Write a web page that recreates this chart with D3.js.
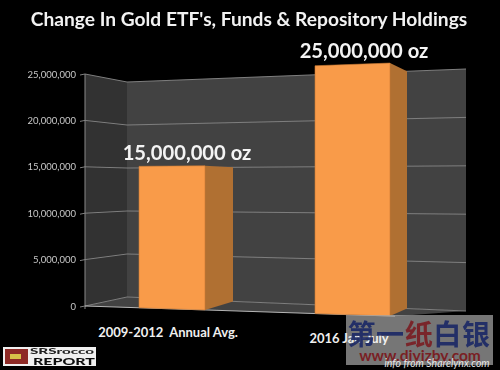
<!DOCTYPE html>
<html>
<head>
<meta charset="utf-8">
<script src="https://d3js.org/d3.v7.min.js"></script>
<style>
    html, body { margin: 0; padding: 0; background: #000; overflow: hidden; }
    svg { display: block; }
    text { font-family: Lato, sans-serif; }
</style>
</head>
<body>
<div id="chart"></div>
<script>
'use strict';

// Data
const categories = ['2009-2012  Annual Avg.', '2016 Jan-July'];
const values = [15000000, 25000000];
const valueLabels = ['15,000,000 oz', '25,000,000 oz'];
const tickValues = [0, 5000000, 10000000, 15000000, 20000000, 25000000];
const titleText = "Change In Gold ETF's, Funds & Repository Holdings";

// Configs
const svgW = 500;
const svgH = 370;
const yMax = 25000000;
const wallX = {front: 85, back: 127, right: 466};
const barColor = '#f99b4a';
const barSide = '#b06f32';

// Tools: the chart is a slanted 3d box, so each plane gets its own base/top lines
const frontBase = d3.scaleLinear().domain([85, 420]).range([306, 317]);
const frontTop = d3.scaleLinear().domain([85, 420]).range([74, 62]);
const backBase = d3.scaleLinear().domain([127, 466]).range([297, 311]);
const backTop = d3.scaleLinear().domain([127, 466]).range([82, 69]);
const frac = d3.scaleLinear().domain([0, yMax]).range([0, 1]);

const yFront = (x, v) => d3.interpolateNumber(frontBase(x), frontTop(x))(frac(v));
const yBack = (x, v) => d3.interpolateNumber(backBase(x), backTop(x))(frac(v));

// Bar edges, by category index
const barLeft = d3.scaleLinear().domain([0, 1]).range([139, 315]);
const barRight = d3.scaleLinear().domain([0, 1]).range([205, 390]);
const barBack = d3.scaleLinear().domain([0, 1]).range([233, 407]);

const line = d3.line();

const svg = d3.select('#chart')
    .append('svg')
    .attr('width', svgW)
    .attr('height', svgH);

svg.append('rect')
    .attr('width', svgW)
    .attr('height', svgH)
    .attr('fill', '#000');

const defs = svg.append('defs');
defs.append('filter')
    .attr('id', 'soft')
    .append('feGaussianBlur')
    .attr('stdDeviation', 0.45);

const g = svg.append('g').attr('filter', 'url(#soft)');

// Walls and floor
g.append('path')
    .attr('d', line([
        [wallX.front, yFront(wallX.front, yMax)],
        [wallX.back, yBack(wallX.back, yMax)],
        [wallX.back, yBack(wallX.back, 0)],
        [wallX.front, yFront(wallX.front, 0)]
    ]) + 'Z')
    .attr('fill', '#303030');
g.append('path')
    .attr('d', line([
        [wallX.back, yBack(wallX.back, yMax)],
        [wallX.right, yBack(wallX.right, yMax)],
        [wallX.right, yBack(wallX.right, 0)],
        [wallX.back, yBack(wallX.back, 0)]
    ]) + 'Z')
    .attr('fill', '#434343');
g.append('path')
    .attr('d', line([
        [wallX.front, yFront(wallX.front, 0)],
        [wallX.back, yBack(wallX.back, 0)],
        [wallX.right, yBack(wallX.right, 0)],
        [395, frontBase(395)]
    ]) + 'Z')
    .attr('fill', '#434343');

// Grid lines
tickValues.forEach(v => {
    g.append('path')
        .attr('d', line([
            [80, yFront(wallX.front, v) + 1],
            [wallX.front, yFront(wallX.front, v)],
            [wallX.back, yBack(wallX.back, v)],
            [wallX.right, yBack(wallX.right, v)]
        ]))
        .attr('fill', 'none')
        .attr('stroke', '#7e7e7e')
        .attr('stroke-width', 1);
});

// Axis and front floor edge
g.append('path')
    .attr('d', line([
        [wallX.front, yFront(wallX.front, yMax)],
        [wallX.front, yFront(wallX.front, 0) + 3]
    ]))
    .attr('stroke', '#8a8a8a');
g.append('path')
    .attr('d', line([
        [wallX.front, yFront(wallX.front, 0)],
        [395, frontBase(395)]
    ]))
    .attr('stroke', '#b5b5b5');

// Tick labels
g.selectAll('.tick')
    .data(tickValues)
    .join('text')
    .attr('class', 'tick')
    .attr('x', 76)
    .attr('y', d => yFront(wallX.front, d) + 3.5)
    .attr('text-anchor', 'end')
    .attr('font-size', 9.5)
    .attr('fill', '#c8c8c8')
    .text(d => d3.format(',')(d));

// Bars
values.forEach((v, i) => {
    const l = barLeft(i);
    const r = barRight(i);
    const b = barBack(i);

    g.append('path')
        .attr('class', 'bar-side')
        .attr('d', line([
            [r, yFront(r, v)],
            [b, yBack(b, v)],
            [b, yBack(b, 0)],
            [r, yFront(r, 0)]
        ]) + 'Z')
        .attr('fill', barSide);
    g.append('path')
        .attr('class', 'bar-front')
        .attr('d', line([
            [l, yFront(l, v)],
            [r, yFront(r, v)],
            [r, yFront(r, 0)],
            [l, yFront(l, 0)]
        ]) + 'Z')
        .attr('fill', barColor)
        .attr('stroke', '#c97a34')
        .attr('stroke-width', 0.6);
});

// Value labels
const labelPos = d3.scaleLinear().domain([0, 1]).range([187, 364]);
g.selectAll('.value')
    .data(valueLabels)
    .join('text')
    .attr('class', 'value')
    .attr('x', (d, i) => labelPos(i))
    .attr('y', (d, i) => yFront(barRight(i), values[i]) - (i ? 5 : 6))
    .attr('text-anchor', 'middle')
    .attr('font-size', 20.2)
    .attr('font-weight', 700)
    .attr('fill', '#f4f4f4')
    .text(d => d);

// Title
g.append('text')
    .attr('x', 249)
    .attr('y', 25.5)
    .attr('text-anchor', 'middle')
    .attr('font-size', 19.2)
    .attr('font-weight', 700)
    .attr('fill', '#f2f2f2')
    .text(titleText);

// Logo
const logo = g.append('g').attr('class', 'logo');
logo.append('rect').attr('x', 3).attr('y', 347).attr('width', 93).attr('height', 19).attr('fill', '#f0f0f0');
logo.append('rect').attr('x', 5).attr('y', 349).attr('width', 23).attr('height', 15).attr('fill', '#8e2a26');
logo.append('rect').attr('x', 10).attr('y', 354).attr('width', 11).attr('height', 5).attr('fill', '#d8c24a');
logo.append('text').attr('x', 30).attr('y', 354).attr('font-size', 7).attr('font-weight', 900)
    .attr('textLength', 64).attr('lengthAdjust', 'spacingAndGlyphs').attr('fill', '#222').text('SRSrocco');
logo.append('text').attr('x', 33).attr('y', 365).attr('font-size', 9).attr('font-weight', 900)
    .attr('textLength', 62).attr('lengthAdjust', 'spacingAndGlyphs').attr('fill', '#111').text('REPORT');

// Watermark panel sits under the category labels
svg.append('rect')
    .attr('x', 346)
    .attr('y', 315)
    .attr('width', 147)
    .attr('height', 50)
    .attr('fill', '#a8a8a8')
    .attr('opacity', 0.7);

// Category labels
const catX = d3.scaleLinear().domain([0, 1]).range([168, 349]);
const catY = d3.scaleLinear().domain([0, 1]).range([337, 343]);
svg.selectAll('.cat')
    .data(categories)
    .join('text')
    .attr('class', 'cat')
    .attr('x', (d, i) => catX(i))
    .attr('y', (d, i) => catY(i))
    .attr('text-anchor', 'middle')
    .attr('font-size', 13)
    .attr('font-weight', 700)
    .attr('fill', '#efefef')
    .style('white-space', 'pre')
    .text(d => d);

// Watermark text
const mark = svg.append('g').attr('class', 'watermark');
const markTitle = mark.append('text')
    .attr('x', 419)
    .attr('y', 345)
    .attr('text-anchor', 'middle')
    .attr('font-size', 28)
    .attr('font-weight', 700)
    .attr('letter-spacing', 0.6)
    .style('font-family', '"Noto Sans CJK SC"')
    .attr('fill', '#1d2a66')
    .attr('opacity', 0.92);
markTitle.append('tspan').text('第一');
markTitle.append('tspan').attr('fill', '#7a1f24').text('纸');
markTitle.append('tspan').text('白银');
mark.append('text')
    .attr('x', 420)
    .attr('y', 361)
    .attr('text-anchor', 'middle')
    .attr('font-size', 15.5)
    .attr('font-weight', 700)
    .attr('fill', '#7a1f24')
    .text('www.diyizby.com');
mark.append('text')
    .attr('x', 437)
    .attr('y', 366.5)
    .attr('text-anchor', 'middle')
    .attr('font-size', 10.5)
    .attr('font-style', 'italic')
    .attr('fill', '#e6e6e6')
    .text('info from Sharelynx.com');
</script>
</body>
</html>
